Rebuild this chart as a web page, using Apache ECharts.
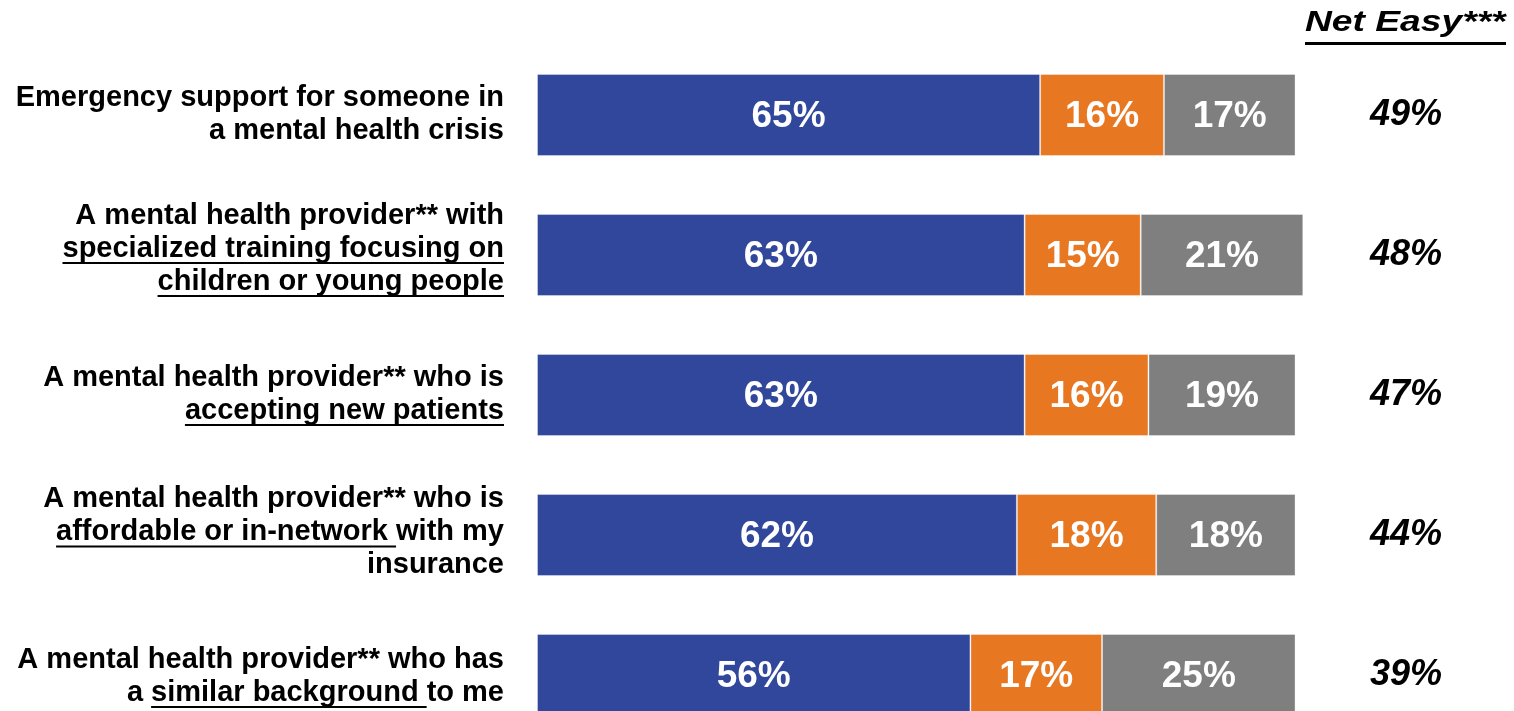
<!DOCTYPE html>
<html>
<head>
<meta charset="utf-8">
<script src="https://cdn.jsdelivr.net/npm/echarts@6/dist/echarts.min.js"></script>
<style>
  html, body { margin: 0; padding: 0; background: #ffffff; }
  #chart { width: 1514px; height: 711px; }
</style>
</head>
<body>
<div id="chart"></div>
<script>
// Row labels (explicit line breaks) and the phrases shown underlined in each row
const categories = [
  'Emergency support for someone in\na mental health crisis',
  'A mental health provider** with\nspecialized training focusing on\nchildren or young people',
  'A mental health provider** who is\naccepting new patients',
  'A mental health provider** who is\naffordable or in-network with my\ninsurance',
  'A mental health provider** who has\na similar background to me'
];
const underlined = [
  [],
  ['specialized training focusing on', 'children or young people'],
  ['accepting new patients'],
  ['affordable or in-network '],
  ['similar background ']
];

// Stacked shares (%)
const easy      = [65, 63, 63, 62, 56];
const difficult = [16, 15, 16, 18, 17];
const other     = [17, 21, 19, 18, 25];

// Net Easy column (%)
const netEasy = [49, 48, 47, 44, 39];
const headerText = 'Net Easy***';

const FONT = "'Liberation Sans', Arial, Helvetica, sans-serif";
const COLORS = ['#30479B', '#E87722', '#7F7F7F'];

// Vertical nudge (px) of each row's text block, to sit the way the text boxes do
const labelNudge = [2, -3.5, 2, 0, 4];

// Small canvas used as a rich-text background: a horizontal rule near its bottom,
// stretched across the token width, acts as an underline.
function underlineImage(h, y0, thick) {
  const c = document.createElement('canvas');
  c.width = 4;
  c.height = h;
  const ctx = c.getContext('2d');
  ctx.fillStyle = '#000000';
  ctx.fillRect(0, y0, 4, thick);
  return c;
}

const LABEL_SIZE = 29;
const LABEL_PAD = 6;
const labelBase = {
  fontFamily: FONT,
  fontSize: LABEL_SIZE,
  fontWeight: 'bold',
  color: '#000000',
  lineHeight: 33,
  padding: [0, 0, LABEL_PAD, 0]
};

function buildLabel(index) {
  const lines = categories[index].split('\n');
  const phrases = underlined[index] || [];
  return lines.map(function (line) {
    let out = '';
    let rest = line;
    for (const p of phrases) {
      const at = rest.indexOf(p);
      if (at >= 0) {
        if (at > 0) out += '{n|' + rest.slice(0, at) + '}';
        out += '{u|' + p + '}';
        rest = rest.slice(at + p.length);
        break;
      }
    }
    if (rest.length) out += '{n|' + rest + '}';
    return out;
  }).join('\n');
}

// Category entries carrying the per-row nudge as text padding
const categoryItems = categories.map(function (name, i) {
  const s = labelNudge[i];
  return {
    value: name,
    textStyle: { padding: s >= 0 ? [2 * s, 0, 0, 0] : [0, 0, -2 * s, 0] }
  };
});

const chart = echarts.init(document.getElementById('chart'), null, { renderer: 'canvas' });

function barSeries(name, data, color) {
  return {
    name: name,
    type: 'bar',
    stack: 'total',
    data: data,
    barWidth: 82,
    itemStyle: {
      color: color,
      borderColor: 'rgba(255,255,255,0.35)',
      borderWidth: 1
    },
    label: {
      show: true,
      position: 'inside',
      offset: [0, 2],
      formatter: '{c}%',
      color: '#ffffff',
      fontFamily: FONT,
      fontSize: 37,
      fontWeight: 'bold'
    },
    emphasis: { disabled: true },
    animation: false
  };
}

chart.setOption({
  animation: false,
  backgroundColor: '#ffffff',
  graphic: [
    {
      // Column header, set in a wide bold italic face and underlined
      type: 'text',
      x: 1305,
      y: 8,
      scaleX: 1.24,
      silent: true,
      style: {
        text: '{h|' + headerText + '}',
        align: 'left',
        verticalAlign: 'top',
        fontFamily: FONT,
        fontSize: 30,
        fontWeight: 'bold',
        fontStyle: 'italic',
        fill: '#000000',
        rich: {
          h: {
            fontFamily: FONT,
            fontSize: 30,
            fontWeight: 'bold',
            fontStyle: 'italic',
            fill: '#000000',
            padding: [0, 0, 12, 0],
            backgroundColor: { image: underlineImage(42, 34, 3) }
          }
        }
      }
    }
  ],
  grid: {
    left: 537,
    top: 45,
    width: 774,
    height: 700,
    containLabel: false,
    outerBoundsMode: 'none'
  },
  xAxis: {
    type: 'value',
    min: 0,
    max: 100,
    show: false
  },
  yAxis: [
    {
      type: 'category',
      inverse: true,
      data: categoryItems,
      axisLine: { show: false },
      axisTick: { show: false },
      splitLine: { show: false },
      axisLabel: {
        interval: 0,
        margin: 33,
        align: 'right',
        formatter: function (value, index) { return buildLabel(index); },
        rich: {
          n: Object.assign({}, labelBase),
          u: Object.assign({}, labelBase, {
            backgroundColor: { image: underlineImage(LABEL_SIZE + LABEL_PAD, 28, 2) }
          })
        }
      }
    },
    {
      type: 'category',
      inverse: true,
      position: 'right',
      data: netEasy.map(String),
      axisLine: { show: false },
      axisTick: { show: false },
      splitLine: { show: false },
      axisLabel: {
        interval: 0,
        margin: 95,
        align: 'center',
        padding: [3, 0, 0, 0],
        formatter: '{value}%',
        fontFamily: FONT,
        fontSize: 36,
        fontWeight: 'bold',
        fontStyle: 'italic',
        color: '#000000'
      }
    }
  ],
  series: [
    barSeries('Easy', easy, COLORS[0]),
    barSeries('Difficult', difficult, COLORS[1]),
    barSeries('Other', other, COLORS[2])
  ]
});
</script>
</body>
</html>
